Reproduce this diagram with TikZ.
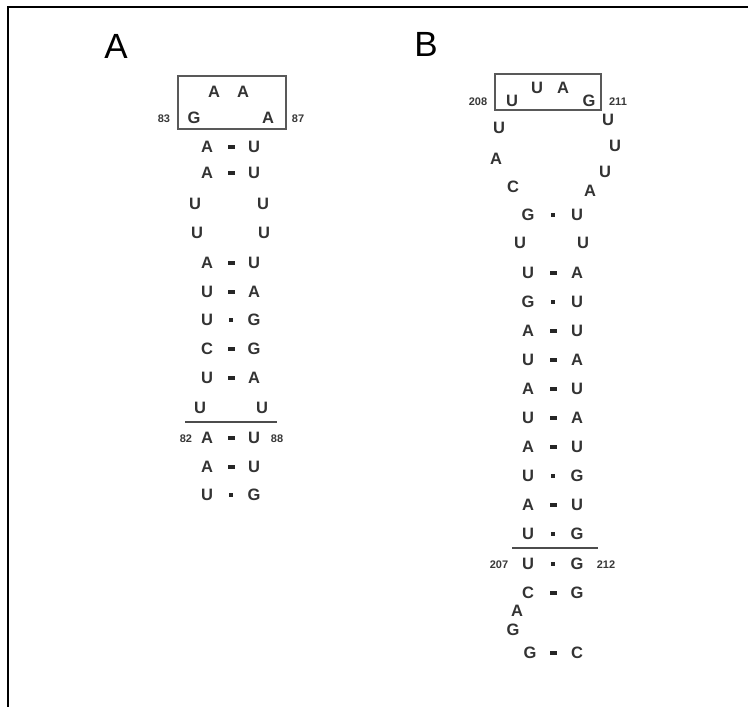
\documentclass[tikz,border=0pt]{standalone}
\usepackage{fontspec}
\newfontfamily\ntfont{Liberation Sans}
\begin{document}
\begin{tikzpicture}[x=1pt,y=-1pt,
  nt/.style={font=\ntfont\bfseries\fontsize{16.5}{16.5}\selectfont, text=black!80, inner sep=0pt},
  num/.style={font=\ntfont\bfseries\fontsize{11}{11}\selectfont, text=black!78, inner sep=0pt},
  panel/.style={font=\ntfont\fontsize{35}{35}\selectfont, inner sep=0pt},
  wc/.style={rectangle, fill=black!85, inner sep=0pt, minimum width=7pt, minimum height=3.5pt},
  gu/.style={rectangle, fill=black!85, inner sep=0pt, minimum width=3.5pt, minimum height=3.5pt},
  boxline/.style={draw=black!65, line width=1.1pt},
  sepline/.style={draw=black!70, line width=1.3pt},
  frame/.style={draw=black, line width=2pt}]
\useasboundingbox (0,0) rectangle (748,707);
% frame
\coordinate (f1) at (8,707);
\coordinate (f2) at (8,7);
\coordinate (f3) at (748,7);
\draw[frame] (f1) -- (f2) -- (f3);

% ===== Panel A =====
\node[panel] (labA) at (116,46) {A};
\node[nt] (a84) at (214,92) {A};
\node[nt] (a85) at (243,92) {A};
\node[nt] (a83) at (194,118) {G};
\node[nt] (a86) at (268,118) {A};
\node[num] (n83) at (164,119) {83};
\node[num] (n87) at (298,119) {87};
\coordinate (boxA1) at (178,76);
\coordinate (boxA2) at (286,129);
\draw[boxline] (boxA1) rectangle (boxA2);

\foreach \y/\l/\m/\r/\k in {147/A/wc/U/1,173/A/wc/U/2,263/A/wc/U/5,292/U/wc/A/6,320/U/gu/G/7,349/C/wc/G/8,378/U/wc/A/9,438/A/wc/U/11,467/A/wc/U/12,495/U/gu/G/13}{
  \node[nt] (aL\k) at (207,\y) {\l};
  \node[nt] (aR\k) at (254,\y) {\r};
  \node[\m] (aM\k) at (231,\y) {};
}
\node[nt] (aL3) at (195,204) {U};
\node[nt] (aR3) at (263,204) {U};
\node[nt] (aL4) at (197,233) {U};
\node[nt] (aR4) at (264,233) {U};
\node[nt] (aL10) at (200,408) {U};
\node[nt] (aR10) at (262,408) {U};
\coordinate (sA1) at (185,422);
\coordinate (sA2) at (277,422);
\draw[sepline] (sA1) -- (sA2);
\node[num] (n82) at (186,439) {82};
\node[num] (n88) at (277,439) {88};

% ===== Panel B =====
\node[panel] (labB) at (426,44) {B};
\coordinate (boxB1) at (495,74);
\coordinate (boxB2) at (601,110);
\draw[boxline] (boxB1) rectangle (boxB2);
\node[num] (n208) at (478,102) {208};
\node[num] (n211) at (618,102) {211};
\node[nt] (b208) at (512,101) {U};
\node[nt] (b209) at (537,88) {U};
\node[nt] (b210) at (563,88) {A};
\node[nt] (b211) at (589,101) {G};
\node[nt] (bl1) at (499,128) {U};
\node[nt] (bl2) at (496,159) {A};
\node[nt] (bl3) at (513,187) {C};
\node[nt] (br1) at (608,120) {U};
\node[nt] (br2) at (615,146) {U};
\node[nt] (br3) at (605,172) {U};
\node[nt] (br4) at (590,191) {A};

\foreach \y/\l/\m/\r/\k in {215/G/gu/U/1,273/U/wc/A/3,302/G/gu/U/4,331/A/wc/U/5,360/U/wc/A/6,389/A/wc/U/7,418/U/wc/A/8,447/A/wc/U/9,476/U/gu/G/10,505/A/wc/U/11,534/U/gu/G/12,564/U/gu/G/13,593/C/wc/G/14}{
  \node[nt] (bL\k) at (528,\y) {\l};
  \node[nt] (bR\k) at (577,\y) {\r};
  \node[\m] (bM\k) at (553,\y) {};
}
\node[nt] (bL2) at (520,243) {U};
\node[nt] (bR2) at (583,243) {U};
\coordinate (sB1) at (512,548);
\coordinate (sB2) at (598,548);
\draw[sepline] (sB1) -- (sB2);
\node[num] (n207) at (499,565) {207};
\node[num] (n212) at (606,565) {212};
\node[nt] (bA) at (517,611) {A};
\node[nt] (bG) at (513,630) {G};
\node[nt] (bL15) at (530,653) {G};
\node[nt] (bR15) at (577,653) {C};
\node[wc] (bM15) at (553,653) {};
\end{tikzpicture}
\end{document}
